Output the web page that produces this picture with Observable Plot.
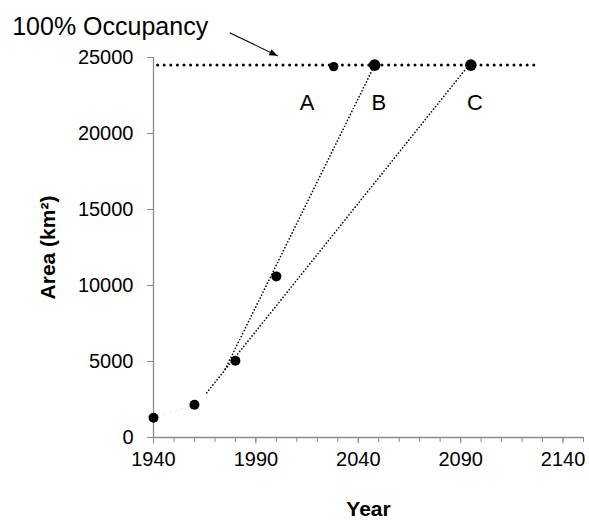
<!DOCTYPE html>
<html>
<head>
<meta charset="utf-8">
<script src="https://cdn.jsdelivr.net/npm/d3@7"></script>
<script src="https://cdn.jsdelivr.net/npm/@observablehq/plot@0.6"></script>
<style>
  html, body { margin: 0; padding: 0; background: white; }
</style>
</head>
<body>
<div id="chart"></div>
<script>
// ---- data ----
const years = [1940, 1960, 1980, 2000, 2028, 2048, 2095];
const areas = [1300, 2150, 5050, 10600, 24400, 24500, 24500];

const occupancyYears = [1942, 2127];
const occupancyArea = 24500;

const projBYears = [1975, 2048];
const projBAreas = [4500, 24500];
const projCYears = [1966, 2094];
const projCAreas = [2950, 24500];

const scenarioLabels = ["A", "B", "C"];
const scenarioYears = [2015, 2050, 2097];
const scenarioArea = 22000;

const xTickLabels = [1940, 1990, 2040, 2090, 2140];
const xMinorTicks = d3.range(1940, 2151, 10);
const yTicks = [0, 5000, 10000, 15000, 20000, 25000];

const annotationText = "100% Occupancy";
const annotationPos = {x: 1871, y: 26990};
const arrowFrom = {x: 1977.4, y: 26610};
const arrowTo = {x: 2000.5, y: 25118};

// ---- tables ----
const points = years.map((y, i) => ({year: y, area: areas[i], i}));
const occupancy = occupancyYears.map(y => ({year: y, area: occupancyArea}));
const projB = projBYears.map((y, i) => ({year: y, area: projBAreas[i]}));
const projC = projCYears.map((y, i) => ({year: y, area: projCAreas[i]}));
const early = points.slice(0, 2);
const labels = scenarioLabels.map((t, i) => ({t, year: scenarioYears[i], area: scenarioArea}));

const font = "Liberation Sans, Arial, Helvetica, sans-serif";
const grey = "#8a8a8a";

function filledArrowHead(color, context) {
  const m = d3.create("svg:marker")
    .attr("viewBox", "-10 -5 10 10")
    .attr("markerWidth", 11)
    .attr("markerHeight", 8)
    .attr("markerUnits", "userSpaceOnUse")
    .attr("refX", 0).attr("refY", 0)
    .attr("orient", "auto")
    .attr("overflow", "visible");
  m.append("path").attr("d", "M-10,-4.2L0,0L-10,4.2Z").attr("fill", color).attr("stroke", "none");
  return m.node();
}

const chart = Plot.plot({
  width: 589,
  height: 520,
  marginLeft: 153,
  marginRight: 6,
  marginTop: 57,
  marginBottom: 83,
  style: {fontFamily: font, fontSize: "20px", color: "black", background: "white", overflow: "visible"},
  x: {domain: [1940, 2150], label: null},
  y: {domain: [0, 25000], label: null},
  r: {type: "identity"},
  marks: [
    // axes
    Plot.axisX({ticks: xMinorTicks, tickSize: 5, tickFormat: () => "", stroke: grey}),
    Plot.axisX({ticks: xTickLabels, tickSize: 6.5, tickPadding: 8, tickFormat: d => String(d), stroke: grey, fill: "black", fontSize: 20, fontFamily: font}),
    Plot.axisY({ticks: yTicks, tickSize: 6, tickPadding: 14, tickFormat: d => String(d), stroke: grey, fill: "black", fontSize: 20, fontFamily: font}),
    Plot.ruleX([1940], {stroke: grey, strokeWidth: 1.3}),
    Plot.ruleY([0], {stroke: grey, strokeWidth: 1.3}),
    // lines
    Plot.line(occupancy, {x: "year", y: "area", stroke: "black", strokeWidth: 3, strokeDasharray: "0,6.6", strokeLinecap: "round"}),
    Plot.line(projB, {x: "year", y: "area", stroke: "black", strokeWidth: 1.7, strokeDasharray: "0,3.3", strokeLinecap: "round"}),
    Plot.line(projC, {x: "year", y: "area", stroke: "black", strokeWidth: 1.7, strokeDasharray: "0,3.3", strokeLinecap: "round"}),
    Plot.line(early, {x: "year", y: "area", stroke: "#d0d0d0", strokeWidth: 1.2, strokeDasharray: "0,6", strokeLinecap: "round"}),
    // points
    Plot.dot(points, {x: "year", y: "area", fill: "black", stroke: "none", r: d => d.i === 4 ? 4.7 : d.i >= 5 ? 5.8 : 5}),
    // scenario labels
    Plot.text(labels, {x: "year", y: "area", text: "t", fontSize: 22, fontFamily: font, fill: "black"}),
    // annotation
    Plot.text([annotationText], {x: annotationPos.x, y: annotationPos.y, text: d => d, textAnchor: "start", fontSize: 25, fontFamily: font, fill: "black"}),
    Plot.line([arrowFrom, arrowTo], {x: "x", y: "y", stroke: "black", strokeWidth: 1.1, markerEnd: filledArrowHead}),
    // axis titles
    Plot.text(["Year"], {frameAnchor: "bottom", dy: 78, text: d => d, fontSize: 21, fontWeight: "bold", fontFamily: font, fill: "black"}),
    Plot.text(["Area (km²)"], {frameAnchor: "left", dx: -105, rotate: -90, textAnchor: "middle", text: d => d, fontSize: 21, fontWeight: "bold", fontFamily: font, fill: "black"})
  ]
});
document.getElementById("chart").appendChild(chart);
</script>
</body>
</html>
